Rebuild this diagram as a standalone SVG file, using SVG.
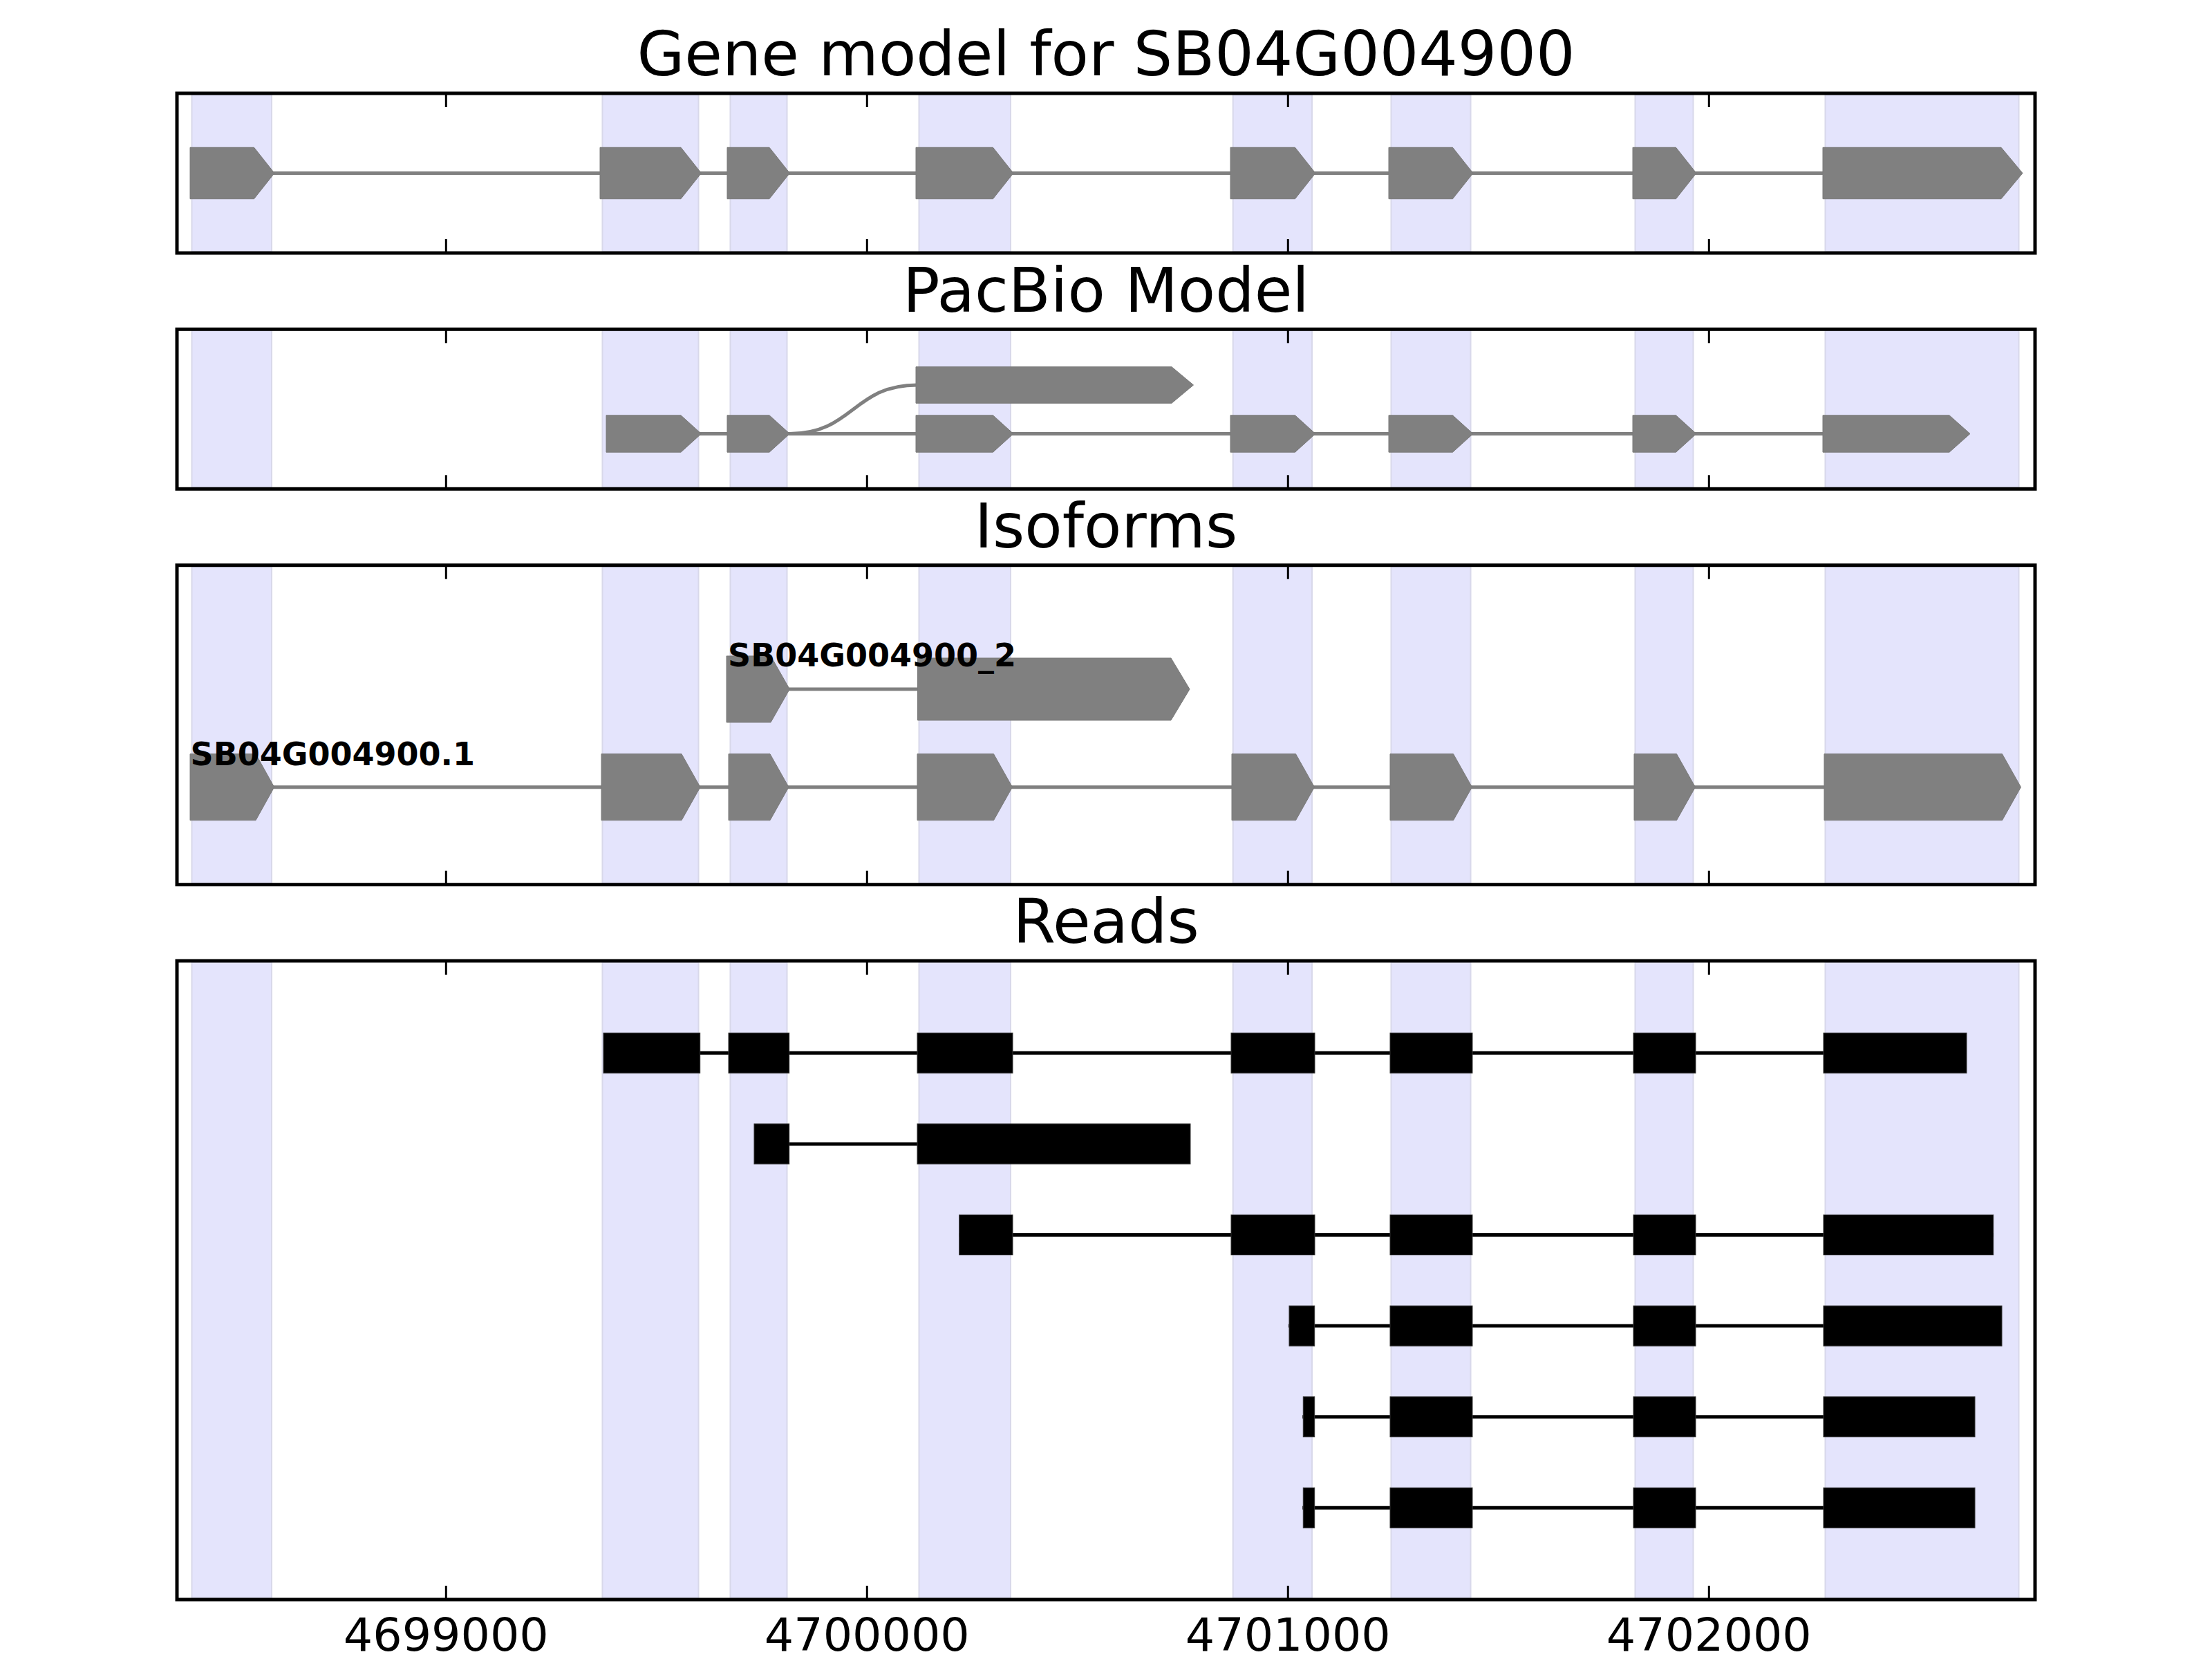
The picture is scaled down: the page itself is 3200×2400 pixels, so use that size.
<svg xmlns="http://www.w3.org/2000/svg" width="3200" height="2400" viewBox="0 0 3200 2400">
<defs>
<style>
.bg{fill:#ffffff}
.shade{fill:#e4e4fc;stroke:#d8d8ea;stroke-width:2}
.frame{fill:none;stroke:#000000;stroke-width:5}
.tick{stroke:#000000;stroke-width:3}
.exon{fill:#808080;stroke:#7a7a7a;stroke-width:1}
.intron{fill:none;stroke:#808080;stroke-width:5}
.read{fill:#000000;stroke:#333333;stroke-width:1}
.rline{fill:none;stroke:#000000;stroke-width:5}
.title{font-family:"DejaVu Sans",sans-serif;font-size:88.9px;fill:#000000;text-anchor:middle}
.ticklbl{font-family:"DejaVu Sans",sans-serif;font-size:66.7px;fill:#000000;text-anchor:middle}
.lbl{font-family:"DejaVu Sans",sans-serif;font-size:46px;font-weight:bold;fill:#000000}
</style>
</defs>
<rect class="bg" x="0" y="0" width="3200" height="2400"/>

<!-- Panel 1: Gene model -->
<g id="panel-gene-model">
<text class="title" x="1600" y="109">Gene model for SB04G004900</text>
<g class="shades">
<rect class="shade" x="277.5" y="137" width="115.5" height="227"/>
<rect class="shade" x="871.5" y="137" width="139" height="227"/>
<rect class="shade" x="1056.5" y="137" width="82" height="227"/>
<rect class="shade" x="1329.5" y="137" width="132.5" height="227"/>
<rect class="shade" x="1783.7" y="137" width="114.3" height="227"/>
<rect class="shade" x="2012.5" y="137" width="115" height="227"/>
<rect class="shade" x="2365.5" y="137" width="84" height="227"/>
<rect class="shade" x="2640.5" y="137" width="280" height="227"/>
</g>
<line class="intron" x1="390" y1="250.5" x2="2640" y2="250.5"/>
<g id="gm-exons">
<polygon class="exon" points="275,213.3 367.5,213.3 397,250.5 367.5,287.7 275,287.7"/>
<polygon class="exon" points="868,213.3 985,213.3 1014.5,250.5 985,287.7 868,287.7"/>
<polygon class="exon" points="1052,213.3 1113,213.3 1142.5,250.5 1113,287.7 1052,287.7"/>
<polygon class="exon" points="1325,213.3 1436.5,213.3 1466,250.5 1436.5,287.7 1325,287.7"/>
<polygon class="exon" points="1780,213.3 1873.5,213.3 1903,250.5 1873.5,287.7 1780,287.7"/>
<polygon class="exon" points="2009,213.3 2101.5,213.3 2131,250.5 2101.5,287.7 2009,287.7"/>
<polygon class="exon" points="2362,213.3 2424.5,213.3 2454,250.5 2424.5,287.7 2362,287.7"/>
<polygon class="exon" points="2637,213.3 2895,213.3 2926,250.5 2895,287.7 2637,287.7"/>
</g>
<rect class="frame" x="256" y="135" width="2688" height="231"/>
<g class="ticks">
<line class="tick" x1="645.3" y1="135" x2="645.3" y2="155"/><line class="tick" x1="645.3" y1="366" x2="645.3" y2="346"/>
<line class="tick" x1="1254.3" y1="135" x2="1254.3" y2="155"/><line class="tick" x1="1254.3" y1="366" x2="1254.3" y2="346"/>
<line class="tick" x1="1863.3" y1="135" x2="1863.3" y2="155"/><line class="tick" x1="1863.3" y1="366" x2="1863.3" y2="346"/>
<line class="tick" x1="2472.3" y1="135" x2="2472.3" y2="155"/><line class="tick" x1="2472.3" y1="366" x2="2472.3" y2="346"/>
</g>
</g>

<!-- Panel 2: PacBio Model -->
<g id="panel-pacbio">
<text class="title" x="1600" y="450.6">PacBio Model</text>
<g class="shades">
<rect class="shade" x="277.5" y="478.3" width="115.5" height="227"/>
<rect class="shade" x="871.5" y="478.3" width="139" height="227"/>
<rect class="shade" x="1056.5" y="478.3" width="82" height="227"/>
<rect class="shade" x="1329.5" y="478.3" width="132.5" height="227"/>
<rect class="shade" x="1783.7" y="478.3" width="114.3" height="227"/>
<rect class="shade" x="2012.5" y="478.3" width="115" height="227"/>
<rect class="shade" x="2365.5" y="478.3" width="84" height="227"/>
<rect class="shade" x="2640.5" y="478.3" width="280" height="227"/>
</g>
<line class="intron" x1="1000" y1="627.5" x2="2640" y2="627.5"/>
<path class="intron" d="M1142.5,627.5 C1234,627.5 1234,557 1327,557"/>
<g id="pb-exons">
<polygon class="exon" points="877,600.8 985,600.8 1014.5,627.5 985,654.2 877,654.2"/>
<polygon class="exon" points="1052,600.8 1113,600.8 1142.5,627.5 1113,654.2 1052,654.2"/>
<polygon class="exon" points="1325,600.8 1436.5,600.8 1466,627.5 1436.5,654.2 1325,654.2"/>
<polygon class="exon" points="1780,600.8 1873.5,600.8 1903,627.5 1873.5,654.2 1780,654.2"/>
<polygon class="exon" points="2009,600.8 2101.5,600.8 2131,627.5 2101.5,654.2 2009,654.2"/>
<polygon class="exon" points="2362,600.8 2424.5,600.8 2454,627.5 2424.5,654.2 2362,654.2"/>
<polygon class="exon" points="2637,600.8 2820,600.8 2850,627.5 2820,654.2 2637,654.2"/>
<polygon class="exon" points="1325,530.7 1695,530.7 1726.5,557 1695,583.3 1325,583.3"/>
</g>
<rect class="frame" x="256" y="476.3" width="2688" height="231"/>
<g class="ticks">
<line class="tick" x1="645.3" y1="476.3" x2="645.3" y2="496.3"/><line class="tick" x1="645.3" y1="707.3" x2="645.3" y2="687.3"/>
<line class="tick" x1="1254.3" y1="476.3" x2="1254.3" y2="496.3"/><line class="tick" x1="1254.3" y1="707.3" x2="1254.3" y2="687.3"/>
<line class="tick" x1="1863.3" y1="476.3" x2="1863.3" y2="496.3"/><line class="tick" x1="1863.3" y1="707.3" x2="1863.3" y2="687.3"/>
<line class="tick" x1="2472.3" y1="476.3" x2="2472.3" y2="496.3"/><line class="tick" x1="2472.3" y1="707.3" x2="2472.3" y2="687.3"/>
</g>
</g>

<!-- Panel 3: Isoforms -->
<g id="panel-isoforms">
<text class="title" x="1600" y="792">Isoforms</text>
<g class="shades">
<rect class="shade" x="277.5" y="819.7" width="115.5" height="458"/>
<rect class="shade" x="871.5" y="819.7" width="139" height="458"/>
<rect class="shade" x="1056.5" y="819.7" width="82" height="458"/>
<rect class="shade" x="1329.5" y="819.7" width="132.5" height="458"/>
<rect class="shade" x="1783.7" y="819.7" width="114.3" height="458"/>
<rect class="shade" x="2012.5" y="819.7" width="115" height="458"/>
<rect class="shade" x="2365.5" y="819.7" width="84" height="458"/>
<rect class="shade" x="2640.5" y="819.7" width="280" height="458"/>
</g>
<line class="intron" x1="390" y1="1138.7" x2="2640" y2="1138.7"/>
<line class="intron" x1="1138" y1="997" x2="1330" y2="997"/>
<g id="iso-1">
<polygon class="exon" points="275,1090.7 370,1090.7 396.7,1138.7 370,1186.7 275,1186.7"/>
<polygon class="exon" points="870,1090.7 986,1090.7 1013,1138.7 986,1186.7 870,1186.7"/>
<polygon class="exon" points="1054,1090.7 1114,1090.7 1141,1138.7 1114,1186.7 1054,1186.7"/>
<polygon class="exon" points="1327,1090.7 1437.5,1090.7 1464.5,1138.7 1437.5,1186.7 1327,1186.7"/>
<polygon class="exon" points="1782,1090.7 1874.5,1090.7 1901.5,1138.7 1874.5,1186.7 1782,1186.7"/>
<polygon class="exon" points="2011,1090.7 2102.5,1090.7 2129.5,1138.7 2102.5,1186.7 2011,1186.7"/>
<polygon class="exon" points="2364,1090.7 2425.5,1090.7 2452.5,1138.7 2425.5,1186.7 2364,1186.7"/>
<polygon class="exon" points="2639,1090.7 2896.5,1090.7 2923.5,1138.7 2896.5,1186.7 2639,1186.7"/>
<text class="lbl" x="275.5" y="1106.5">SB04G004900.1</text>
</g>
<g id="iso-2">
<polygon class="exon" points="1051,949 1115,949 1142.3,997 1115,1045 1051,1045"/>
<polygon class="exon" points="1327.5,952 1694,952 1721,997 1694,1042 1327.5,1042"/>
<text class="lbl" x="1053" y="964">SB04G004900_2</text>
</g>
<rect class="frame" x="256" y="817.7" width="2688" height="462"/>
<g class="ticks">
<line class="tick" x1="645.3" y1="817.7" x2="645.3" y2="837.7"/><line class="tick" x1="645.3" y1="1279.7" x2="645.3" y2="1259.7"/>
<line class="tick" x1="1254.3" y1="817.7" x2="1254.3" y2="837.7"/><line class="tick" x1="1254.3" y1="1279.7" x2="1254.3" y2="1259.7"/>
<line class="tick" x1="1863.3" y1="817.7" x2="1863.3" y2="837.7"/><line class="tick" x1="1863.3" y1="1279.7" x2="1863.3" y2="1259.7"/>
<line class="tick" x1="2472.3" y1="817.7" x2="2472.3" y2="837.7"/><line class="tick" x1="2472.3" y1="1279.7" x2="2472.3" y2="1259.7"/>
</g>
</g>

<!-- Panel 4: Reads -->
<g id="panel-reads">
<text class="title" x="1600" y="1364.3">Reads</text>
<g class="shades">
<rect class="shade" x="277.5" y="1392" width="115.5" height="920"/>
<rect class="shade" x="871.5" y="1392" width="139" height="920"/>
<rect class="shade" x="1056.5" y="1392" width="82" height="920"/>
<rect class="shade" x="1329.5" y="1392" width="132.5" height="920"/>
<rect class="shade" x="1783.7" y="1392" width="114.3" height="920"/>
<rect class="shade" x="2012.5" y="1392" width="115" height="920"/>
<rect class="shade" x="2365.5" y="1392" width="84" height="920"/>
<rect class="shade" x="2640.5" y="1392" width="280" height="920"/>
</g>
<g id="read-1">
<line class="rline" x1="873" y1="1523.3" x2="2845" y2="1523.3"/>
<rect class="read" x="873" y="1494.3" width="139.7" height="58"/>
<rect class="read" x="1054" y="1494.3" width="87.7" height="58"/>
<rect class="read" x="1327" y="1494.3" width="138" height="58"/>
<rect class="read" x="1781" y="1494.3" width="121" height="58"/>
<rect class="read" x="2011" y="1494.3" width="119" height="58"/>
<rect class="read" x="2363" y="1494.3" width="90" height="58"/>
<rect class="read" x="2638" y="1494.3" width="207" height="58"/>
</g>
<g id="read-2">
<line class="rline" x1="1091" y1="1654.9" x2="1722" y2="1654.9"/>
<rect class="read" x="1091" y="1625.9" width="50.7" height="58"/>
<rect class="read" x="1327" y="1625.9" width="395" height="58"/>
</g>
<g id="read-3">
<line class="rline" x1="1387.7" y1="1786.5" x2="2883.7" y2="1786.5"/>
<rect class="read" x="1387.7" y="1757.5" width="77.3" height="58"/>
<rect class="read" x="1781" y="1757.5" width="121" height="58"/>
<rect class="read" x="2011" y="1757.5" width="119" height="58"/>
<rect class="read" x="2363" y="1757.5" width="90" height="58"/>
<rect class="read" x="2638" y="1757.5" width="245.7" height="58"/>
</g>
<g id="read-4">
<line class="rline" x1="1864" y1="1918.1" x2="2896" y2="1918.1"/>
<rect class="read" x="1865" y="1889.1" width="36.7" height="58"/>
<rect class="read" x="2011" y="1889.1" width="119" height="58"/>
<rect class="read" x="2363" y="1889.1" width="90" height="58"/>
<rect class="read" x="2638" y="1889.1" width="258" height="58"/>
</g>
<g id="read-5">
<line class="rline" x1="1884.3" y1="2049.7" x2="2857" y2="2049.7"/>
<rect class="read" x="1885.3" y="2020.7" width="16.4" height="58"/>
<rect class="read" x="2011" y="2020.7" width="119" height="58"/>
<rect class="read" x="2363" y="2020.7" width="90" height="58"/>
<rect class="read" x="2638" y="2020.7" width="219" height="58"/>
</g>
<g id="read-6">
<line class="rline" x1="1884.3" y1="2181.3" x2="2857" y2="2181.3"/>
<rect class="read" x="1885.3" y="2152.3" width="16.4" height="58"/>
<rect class="read" x="2011" y="2152.3" width="119" height="58"/>
<rect class="read" x="2363" y="2152.3" width="90" height="58"/>
<rect class="read" x="2638" y="2152.3" width="219" height="58"/>
</g>
<rect class="frame" x="256" y="1390" width="2688" height="924"/>
<g class="ticks">
<line class="tick" x1="645.3" y1="1390" x2="645.3" y2="1410"/><line class="tick" x1="645.3" y1="2314" x2="645.3" y2="2294"/>
<line class="tick" x1="1254.3" y1="1390" x2="1254.3" y2="1410"/><line class="tick" x1="1254.3" y1="2314" x2="1254.3" y2="2294"/>
<line class="tick" x1="1863.3" y1="1390" x2="1863.3" y2="1410"/><line class="tick" x1="1863.3" y1="2314" x2="1863.3" y2="2294"/>
<line class="tick" x1="2472.3" y1="1390" x2="2472.3" y2="1410"/><line class="tick" x1="2472.3" y1="2314" x2="2472.3" y2="2294"/>
</g>
<g class="ticklabels">
<text class="ticklbl" x="645.3" y="2388">4699000</text>
<text class="ticklbl" x="1254.3" y="2388">4700000</text>
<text class="ticklbl" x="1863.3" y="2388">4701000</text>
<text class="ticklbl" x="2472.3" y="2388">4702000</text>
</g>
</g>
</svg>
